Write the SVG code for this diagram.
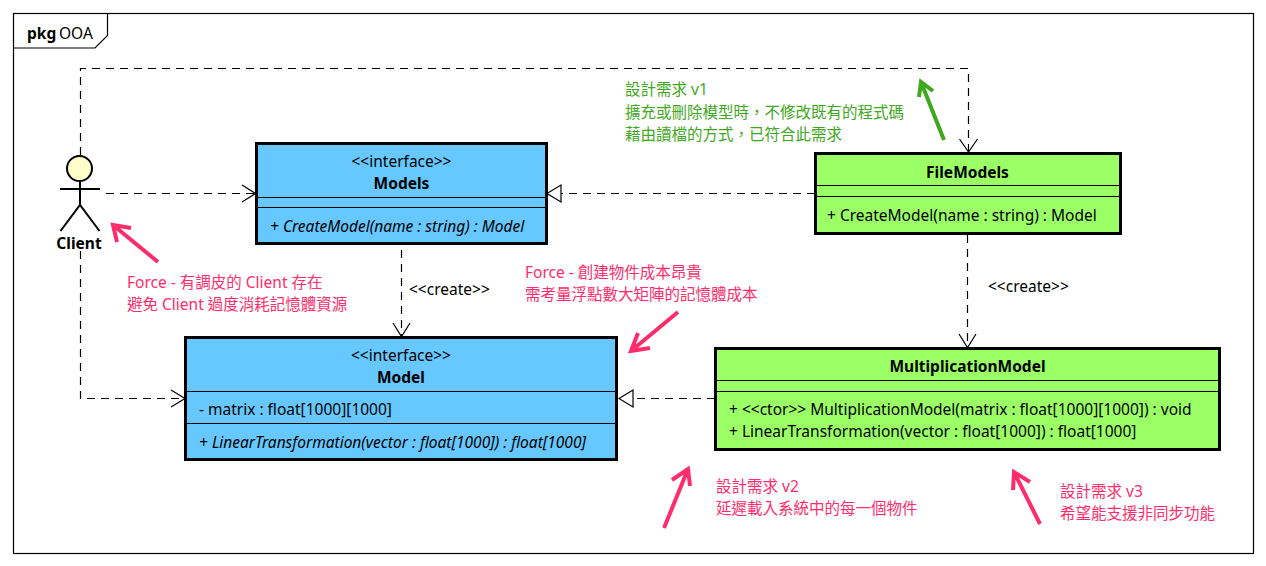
<svg xmlns="http://www.w3.org/2000/svg" width="1266" height="566" viewBox="0 0 1266 566">
<style>
text{font-family:"Noto Sans","Noto Sans CJK TC",sans-serif;font-size:15.5px;fill:#000}
.c{text-anchor:middle}
.b{font-weight:700}
.i{font-style:italic}
.p{fill:#ff2d6b}
.g{fill:#3fa81e}
.box{stroke:#000;stroke-width:3}
.blue{fill:#66c8ff}
.lime{fill:#9bff66}
.sep{stroke:#000;stroke-width:1.2;fill:none}
.dash{fill:none;stroke:#000;stroke-width:1.2;stroke-dasharray:8 6}
.open{fill:none;stroke:#000;stroke-width:1.2}
.tri{fill:#fff;stroke:#000;stroke-width:1.2}
.pa{fill:none;stroke:#ff2d6b;stroke-width:4}
.ga{fill:none;stroke:#3fa81e;stroke-width:4}
.act{fill:none;stroke:#000;stroke-width:2}
</style>
<rect width="1266" height="566" fill="#fff"/>
<g id="frame">
<rect x="13.5" y="13.5" width="1240" height="540" fill="#fff" stroke="#000" stroke-width="1.2"/>
<path d="M13.5 48H95L107.500 35.500V13.500" fill="none" stroke="#000" stroke-width="1.2"/>
<text x="27" y="39" class="b">pkg</text><text x="59" y="39">OOA</text>
</g>
<g id="connectors">
<path class="dash" d="M80.500 155V68.500H968.500V152"/>
<path class="open" d="M959.500 139L968.500 152L977.500 139"/>
<path class="dash" d="M106 193.500H255"/>
<path class="open" d="M242 185L255.500 193.500L242 202"/>
<path class="dash" d="M80.500 251V398.500H184"/>
<path class="open" d="M171 390L185 398.500L171 407"/>
<path class="dash" d="M401.500 250V336"/>
<path class="open" d="M393 323L401.500 336.500L410 323"/>
<path class="dash" d="M815 193.500H561"/>
<path class="tri" d="M547 193.500L561 185V202Z"/>
<path class="dash" d="M967.500 235V347"/>
<path class="open" d="M959 334L967.500 347.500L976 334"/>
<path class="dash" d="M715 398.500H633"/>
<path class="tri" d="M619 398.500L633 390V407Z"/>
<text x="409" y="295">&lt;&lt;create&gt;&gt;</text>
<text x="988" y="292">&lt;&lt;create&gt;&gt;</text>
</g>
<g id="Client">
<circle cx="79.500" cy="168.500" r="12.500" fill="#ffffcc" stroke="#000" stroke-width="2"/>
<path class="act" d="M80 181V205M60 189H100M60.500 231L80 205L99.500 231"/>
<text x="79" y="249" class="c b">Client</text>
</g>
<g id="Models">
<rect class="box blue" x="256.500" y="143.500" width="290" height="100"/>
<path class="sep" d="M256.500 197.500H546.500M256.500 207.500H546.500"/>
<text x="401.500" y="167" class="c">&lt;&lt;interface&gt;&gt;</text>
<text x="401.500" y="189" class="c b">Models</text>
<text x="270" y="232" class="i">+ CreateModel(name : string) : Model</text>
</g>
<g id="Model">
<rect class="box blue" x="185.500" y="337.500" width="431" height="122"/>
<path class="sep" d="M185.500 391.500H616.500M185.500 423.500H616.500"/>
<text x="401" y="361" class="c">&lt;&lt;interface&gt;&gt;</text>
<text x="401" y="383" class="c b">Model</text>
<text x="199" y="415">- matrix : float[1000][1000]</text>
<text x="199" y="448" class="i">+ LinearTransformation(vector : float[1000]) : float[1000]</text>
</g>
<g id="FileModels">
<rect class="box lime" x="815.500" y="153.500" width="305" height="80"/>
<path class="sep" d="M815.500 185.500H1120.500M815.500 196.500H1120.500"/>
<text x="967.500" y="178" class="c b">FileModels</text>
<text x="827" y="221">+ CreateModel(name : string) : Model</text>
</g>
<g id="MultiplicationModel">
<rect class="box lime" x="715.500" y="348.500" width="504" height="101"/>
<path class="sep" d="M715.500 380.500H1219.500M715.500 391.500H1219.500"/>
<text x="967.500" y="372" class="c b">MultiplicationModel</text>
<text x="729" y="415">+ &lt;&lt;ctor&gt;&gt; MultiplicationModel(matrix : float[1000][1000]) : void</text>
<text x="729" y="437">+ LinearTransformation(vector : float[1000]) : float[1000]</text>
</g>
<g id="notes">
<path class="ga" d="M944 140L921 82M919 97L921 82L933 91"/>
<text x="625" y="95" class="g">設計需求 v1</text>
<text x="625" y="118" class="g">擴充或刪除模型時，不修改既有的程式碼</text>
<text x="625" y="140" class="g">藉由讀檔的方式，已符合此需求</text>
<path class="pa" d="M158 262L113 225M117 242L113 225L131 228"/>
<text x="127" y="288" class="p">Force - 有調皮的 Client 存在</text>
<text x="127" y="310" class="p">避免 Client 過度消耗記憶體資源</text>
<path class="pa" d="M678 312L631 351M650 348L631 351L638 333"/>
<text x="525" y="278" class="p">Force - 創建物件成本昂貴</text>
<text x="525" y="300" class="p">需考量浮點數大矩陣的記憶體成本</text>
<path class="pa" d="M664 528L688 469M672 480L688 469L690 486"/>
<text x="716" y="492" class="p">設計需求 v2</text>
<text x="716" y="514" class="p">延遲載入系統中的每一個物件</text>
<path class="pa" d="M1040 524L1014 472M1013 490L1014 472L1030 482"/>
<text x="1060" y="497" class="p">設計需求 v3</text>
<text x="1060" y="519" class="p">希望能支援非同步功能</text>
</g>
</svg>
